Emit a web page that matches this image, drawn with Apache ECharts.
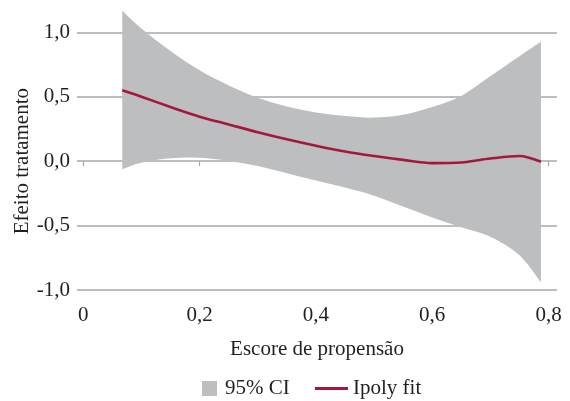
<!DOCTYPE html>
<html>
<head>
<meta charset="utf-8">
<script src="https://cdn.jsdelivr.net/npm/echarts@6/dist/echarts.min.js"></script>
<style>html,body{margin:0;padding:0;background:#fff}#c{width:570px;height:401px}</style>
</head>
<body>
<div id="c"></div>
<script>
// Propensity score grid
var xs = [0.067, 0.10, 0.15, 0.20, 0.25, 0.30, 0.35, 0.40, 0.45, 0.50, 0.55, 0.60, 0.65, 0.70, 0.75, 0.787];
// 95% CI bounds
var ciLower = [-0.062, -0.012, 0.022, 0.026, 0.002, -0.037, -0.093, -0.15, -0.205, -0.268, -0.352, -0.437, -0.513, -0.587, -0.73, -0.94];
var ciUpper = [1.168, 1.03, 0.855, 0.705, 0.588, 0.492, 0.425, 0.378, 0.35, 0.338, 0.36, 0.42, 0.505, 0.66, 0.815, 0.927];
// Ipoly fit
var fit = [0.55, 0.50, 0.42, 0.345, 0.285, 0.225, 0.17, 0.12, 0.075, 0.04, 0.01, -0.015, -0.01, 0.02, 0.04, -0.005];
var xTicks = [0, 0.2, 0.4, 0.6, 0.8];

var FONT = 'Liberation Serif';
var TXT = '#231f20';

var fitData = xs.map(function (x, i) { return [x, fit[i]]; });

var chart = echarts.init(document.getElementById('c'), null, { renderer: 'canvas' });
chart.setOption({
  animation: false,
  grid: { left: 77, right: 13, top: 32.3, bottom: 111, containLabel: false, outerBoundsMode: 'none' },
  xAxis: {
    type: 'value', min: -0.0108, max: 0.8146,
    offset: 9,
    name: 'Escore de propensão', nameLocation: 'middle', nameGap: 40, nameMoveOverlap: false,
    nameTextStyle: { fontFamily: FONT, fontSize: 21, color: TXT },
    axisLine: { show: false },
    axisTick: { show: true, customValues: xTicks, length: 5, lineStyle: { color: '#a7a9ac', width: 1.2 } },
    axisLabel: { customValues: xTicks, fontFamily: FONT, fontSize: 21, color: TXT, margin: 6,
      formatter: function (v) { return v === 0 ? '0' : v.toFixed(1).replace('.', ','); } },
    splitLine: { show: false }
  },
  yAxis: {
    type: 'value', min: -1, max: 1, interval: 0.5,
    name: 'Efeito tratamento', nameLocation: 'middle', nameGap: 44, nameMoveOverlap: false,
    nameTextStyle: { fontFamily: FONT, fontSize: 21, color: TXT },
    axisLine: { show: false }, axisTick: { show: false },
    axisLabel: { fontFamily: FONT, fontSize: 21, color: TXT, margin: 7,
      formatter: function (v) { return v.toFixed(1).replace('.', ','); } },
    splitLine: { show: true, lineStyle: { color: '#a7a9ac', width: 1.6 } }
  },
  legend: [
    { data: [{ name: '95% CI', icon: 'rect' }], left: 202, top: 378, padding: 0,
      itemWidth: 15, itemHeight: 15, textStyle: { fontFamily: FONT, fontSize: 21, color: TXT, padding: [0, 0, 0, 3] } },
    { data: [{ name: 'Ipoly fit', icon: 'rect' }], left: 315, top: 378, padding: 0,
      itemWidth: 33, itemHeight: 3, textStyle: { fontFamily: FONT, fontSize: 21, color: TXT } }
  ],
  series: [
    { name: '95% CI', type: 'custom', color: '#bcbec0', clip: false, z: 1,
      data: [[xs[0], ciUpper[0]]],
      encode: { x: 0, y: 1 },
      renderItem: function (params, api) {
        var up = [], lo = [];
        for (var i = 0; i < xs.length; i++) {
          up.push(api.coord([xs[i], ciUpper[i]]));
          lo.push(api.coord([xs[i], ciLower[i]]));
        }
        function smoothPath(pts) {
          var d = '';
          for (var i = 0; i < pts.length - 1; i++) {
            var p0 = pts[i - 1] || pts[i], p1 = pts[i], p2 = pts[i + 1], p3 = pts[i + 2] || pts[i + 1];
            var c1 = [p1[0] + (p2[0] - p0[0]) / 6, p1[1] + (p2[1] - p0[1]) / 6];
            var c2 = [p2[0] - (p3[0] - p1[0]) / 6, p2[1] - (p3[1] - p1[1]) / 6];
            d += ' C' + c1[0] + ',' + c1[1] + ' ' + c2[0] + ',' + c2[1] + ' ' + p2[0] + ',' + p2[1];
          }
          return d;
        }
        var loR = lo.slice().reverse();
        var d = 'M' + up[0][0] + ',' + up[0][1] + smoothPath(up) +
                ' L' + loR[0][0] + ',' + loR[0][1] + smoothPath(loR) + ' Z';
        return { type: 'path', shape: { pathData: d }, style: { fill: '#bcbec0' } };
      }
    },
    { name: 'Ipoly fit', type: 'line', data: fitData, symbol: 'none', smooth: 0.3, clip: false,
      color: '#a6173d', lineStyle: { color: '#a6173d', width: 2.6 }, z: 3 }
  ]
});
</script>
</body>
</html>
